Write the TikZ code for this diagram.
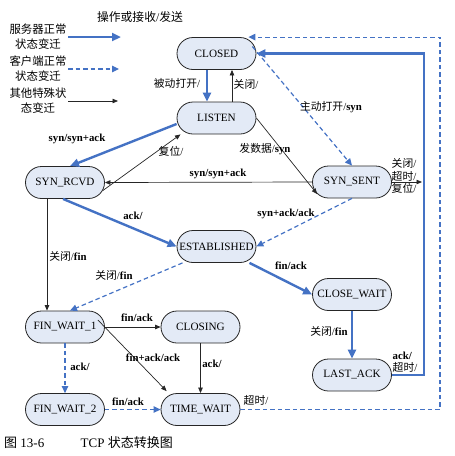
\documentclass[tikz,border=0pt]{standalone}
\usepackage{fontspec}
\setmainfont{Liberation Serif}
\newfontfamily\cjk{Noto Sans CJK SC}
\usetikzlibrary{arrows.meta}
\definecolor{tblue}{RGB}{68,114,196}
\definecolor{sfill}{RGB}{227,234,246}
\newcommand{\zh}[1]{{\cjk #1}}
\begin{document}
\begin{tikzpicture}[x=1pt,y=-1pt,
 state/.style={draw=black!85, line width=0.8pt, fill=sfill, rounded corners=16pt, minimum width=79pt, minimum height=32pt, inner sep=0pt, font=\fontsize{11.2}{12}\selectfont},
 srv/.style={draw=tblue, line width=2.4pt, -{Triangle[length=9pt,width=8pt]}},
 cli/.style={draw=tblue, line width=1.2pt, dash pattern=on 4.5pt off 3pt, -{Triangle[length=7pt,width=6.5pt]}},
 oth/.style={draw=black!85, line width=0.7pt, -{Triangle[length=5.5pt,width=4.5pt]}},
 lbl/.style={font=\fontsize{10.8}{12.5}\selectfont, inner sep=0pt, align=left},
 leg/.style={font=\fontsize{11.4}{15}\selectfont, inner sep=0pt, align=center}
]
\useasboundingbox (0,0) rectangle (455,456);

% legend
\node[leg, font=\fontsize{11.8}{15}\selectfont] (lgt) at (140,17) {\zh{操作或接收}/\zh{发送}};
\node[leg] (lg1) at (38,37) {\zh{服务器正常}\\\zh{状态变迁}};
\node[leg] (lg2) at (38,69) {\zh{客户端正常}\\\zh{状态变迁}};
\node[leg] (lg3) at (38,101) {\zh{其他特殊状}\\\zh{态变迁}};
\coordinate (la1) at (68,37);  \coordinate (lb1) at (121,37);
\coordinate (la2) at (68,69);  \coordinate (lb2) at (119,69);
\coordinate (la3) at (68,101); \coordinate (lb3) at (118,101);
\draw[srv] (la1) -- (lb1);
\draw[cli] (la2) -- (lb2);
\draw[oth] (la3) -- (lb3);

% states
\node[state] (closed) at (216.5,53.5) {CLOSED};
\node[state] (listen) at (216.5,118) {LISTEN};
\node[state] (synrcvd) at (65,182.5) {SYN\_RCVD};
\node[state] (synsent) at (352,182) {SYN\_SENT};
\node[state] (est) at (216.5,246.5) {ESTABLISHED};
\node[state] (closewait) at (352,294.5) {CLOSE\_WAIT};
\node[state] (lastack) at (352,375) {LAST\_ACK};
\node[state] (fw1) at (65,327) {FIN\_WAIT\_1};
\node[state] (closing) at (200.5,327) {CLOSING};
\node[state] (fw2) at (65,409.5) {FIN\_WAIT\_2};
\node[state] (timewait) at (200.5,409.5) {TIME\_WAIT};

\coordinate (rx1) at (422,182);
\coordinate (rx2) at (424,0);
\coordinate (rx3) at (440,0);

% connectors
\draw[srv] ([xshift=-9.5pt]closed.south) -- ([xshift=-9.5pt]listen.north);
\draw[oth] ([xshift=15.5pt]listen.north) -- ([xshift=15.5pt]closed.south);
\draw[cli] ([xshift=-4pt,yshift=7pt]closed.east) -- (synsent.north);
\draw[oth] (listen.east) -- ([xshift=5pt,yshift=-12pt]synsent.west);
\draw[srv] ([yshift=-6pt]listen.west) -- ([xshift=5pt]synrcvd.north);
\draw[oth] ([xshift=-2pt,yshift=-8pt]synrcvd.east) -- ([xshift=-36pt]listen.south);
\draw[oth] (synsent.west) -- (synrcvd.east);
\draw[oth] (synsent.east) -- (rx1);
\draw[srv] ([xshift=-2pt]synrcvd.south) -- (est.west);
\draw[cli] (synsent.south) -- (est.east);
\draw[oth] ([xshift=-18pt]synrcvd.south) -- ([xshift=-18pt]fw1.north);
\draw[cli] ([xshift=-34pt]est.south) -- ([xshift=5pt]fw1.north);
\draw[srv] ([xshift=33pt]est.south) -- (closewait.west);
\draw[srv] (closewait.south) -- (lastack.north);
\draw[srv] (lastack.east) -- (rx2 |- lastack.east) -- (rx2 |- closed.east) -- (closed.east);
\draw[cli] (timewait.east) -- (rx3 |- timewait.east) -- (rx3 |- closed.north) -- ([xshift=-8pt]closed.north east);
\draw[oth] (fw1.east) -- (closing.west);
\draw[oth] ([xshift=-7pt,yshift=7pt]fw1.east) -- ([xshift=6pt,yshift=2pt]timewait.north west);
\draw[oth] (closing.south) -- (timewait.north);
\draw[cli] (fw1.south) -- (fw2.north);
\draw[cli] (fw2.east) -- (timewait.west);

% labels
\node[lbl] (l1) at (177,83) {\zh{被动打开}/};
\node[lbl] (l2) at (246,84) {\zh{关闭}/};
\node[lbl] (l3) at (331,107) {\zh{主动打开}/\textbf{syn}};
\node[lbl] (l4) at (77,139) {\textbf{syn/syn+ack}};
\node[lbl] (l5) at (171,151) {\zh{复位}/};
\node[lbl] (l6) at (265,149) {\zh{发数据}/\textbf{syn}};
\node[lbl] (l7) at (218,174) {\textbf{syn/syn+ack}};
\node[lbl, font=\fontsize{10.8}{12.5}\selectfont] (l8) at (404,176) {\zh{关闭}/\\\zh{超时}/\\\zh{复位}/};
\node[lbl] (l9) at (133,216) {\textbf{ack/}};
\node[lbl] (l10) at (286,214) {\textbf{syn+ack/ack}};
\node[lbl] (l11) at (68,256) {\zh{关闭}/\textbf{fin}};
\node[lbl] (l12) at (114,275) {\zh{关闭}/\textbf{fin}};
\node[lbl] (l13) at (291,266) {\textbf{fin/ack}};
\node[lbl] (l14) at (329,331) {\zh{关闭}/\textbf{fin}};
\node[lbl] (l15) at (405,362) {\textbf{ack/}\\\zh{超时}/};
\node[lbl] (l16) at (256,400) {\zh{超时}/};
\node[lbl] (l17) at (137,318) {\textbf{fin/ack}};
\node[lbl] (l18) at (153,358) {\textbf{fin+ack/ack}};
\node[lbl] (l19) at (212,364) {\textbf{ack/}};
\node[lbl] (l20) at (80,367) {\textbf{ack/}};
\node[lbl] (l21) at (128,402) {\textbf{fin/ack}};

% caption
\node[anchor=west, inner sep=0pt, font=\fontsize{13}{14}\selectfont] (cap) at (4,443) {\zh{图}~13-6\hspace{2.8em}TCP~\zh{状态转换图}};
\end{tikzpicture}
\end{document}
